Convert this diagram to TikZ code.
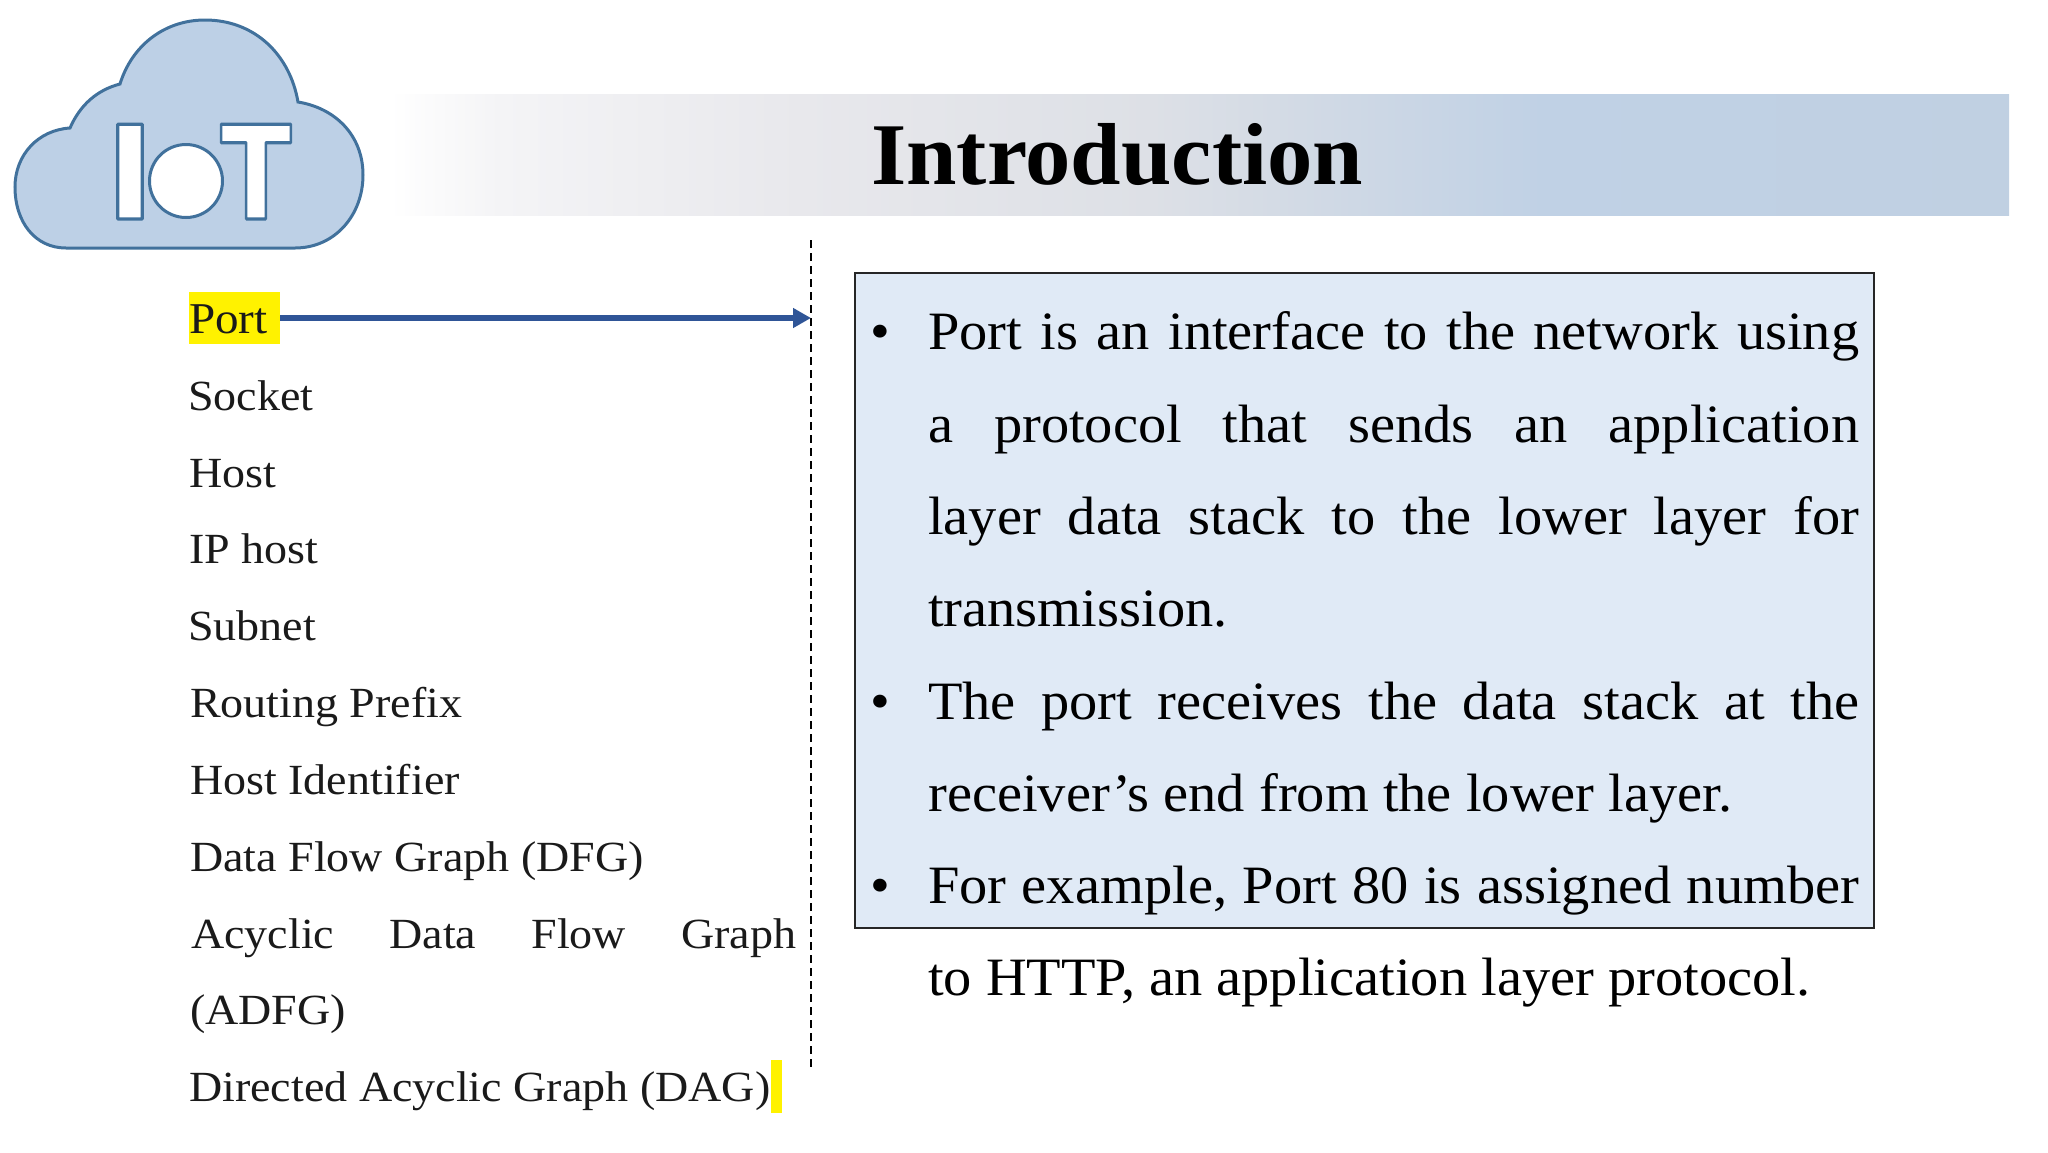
\documentclass[tikz,border=0pt]{standalone}
\usepackage{fontspec}
\setmainfont[FakeStretch=1.07]{Liberation Serif}
\newfontfamily\bodyfont[FakeStretch=1.045]{Liberation Serif}
\newfontfamily\titlefont[FakeStretch=1.03]{Liberation Serif Bold}
\newfontfamily\logofont[FakeBold=2.4]{DejaVu Sans Bold}
\usetikzlibrary{arrows.meta,positioning,calc}
\definecolor{cloudfill}{HTML}{BDD0E6}
\definecolor{cloudline}{HTML}{41719C}
\definecolor{boxfill}{HTML}{E0EAF6}
\definecolor{arrowblue}{HTML}{2F5597}
\definecolor{inkgrey}{HTML}{1A1A1A}
\definecolor{banda}{HTML}{F4F4F6}
\definecolor{bandb}{HTML}{E8E8EC}
\definecolor{bandc}{HTML}{DDE0E6}
\definecolor{bandd}{HTML}{D2DAE5}
\definecolor{bande}{HTML}{C0D1E5}
\definecolor{bandf}{HTML}{C0D0E2}
\pgfdeclarehorizontalshading{bandshade}{100bp}{color(0bp)=(white); color(25bp)=(white); color(28.4bp)=(banda); color(37.7bp)=(bandb); color(48.5bp)=(bandc); color(53.1bp)=(bandd); color(60.6bp)=(bande); color(75bp)=(bandf); color(100bp)=(bandf)}
\newcommand{\logoletter}[1]{\special{pdf:bc [1 1 1] [0.255 0.443 0.612]}#1\special{pdf:ec}}
\begin{document}
\begin{tikzpicture}
[x=1pt,y=-1pt,
termline/.style={anchor=base west,inner sep=0pt,text=inkgrey,font=\fontsize{43}{48}\selectfont},
bodyline/.style={anchor=base west,inner sep=0pt,text=black,font=\fontsize{54}{60}\bodyfont},
bulletmark/.style={anchor=base,inner sep=0pt,text=black,font=\fontsize{54}{60}\bodyfont},
logotext/.style={anchor=base,inner sep=0pt,line join=round,font=\fontsize{130}{130}\logofont}]
\useasboundingbox (0,0) rectangle (2048,1152);
\shade[shading=bandshade] (390,94) rectangle (2009,215);
\node[anchor=base west,inner sep=0pt,font=\fontsize{88}{96}\titlefont] (title) at (871,184) {Introduction};
% cloud
\draw[cloudline,line width=3pt,fill=cloudfill] (66,248) -- (295,248)
.. controls (335,248) and (363,215) .. (363,175)
.. controls (363,135) and (335,108) .. (298,102)
.. controls (290,55) and (255,20) .. (205,20)
.. controls (165,20) and (132,45) .. (120,84)
.. controls (97,90) and (80,105) .. (70,128)
.. controls (38,130) and (15,155) .. (15,187)
.. controls (15,222) and (35,248) .. (66,248) -- cycle;
\node[logotext] (logoi) at (130,219) {\logoletter{I}};
\node[circle,draw=cloudline,line width=3pt,fill=white,inner sep=0pt,minimum size=73pt,text=white,font=\fontsize{60}{60}\logofont] (logoo) at (186,181) {o};
\node[logotext,xscale=.8,transform shape] (logot) at (256,219) {\logoletter{T}};
% left column
\node[anchor=west,inner sep=0pt,fill=yellow,text=inkgrey,text width=91pt,align=left,text height=41pt,text depth=11pt,font=\fontsize{44}{48}\selectfont] (port) at (189,318) {Port};
\node[termline] (socket) at (188,410) {Socket};
\node[termline] (host) at (189,487) {Host};
\node[termline] (iphost) at (189,563) {IP host};
\node[termline] (subnet) at (188,640) {Subnet};
\node[termline] (prefix) at (190,717) {Routing Prefix};
\node[termline] (hostid) at (190,794) {Host Identifier};
\node[termline] (dfg) at (190,871) {Data Flow Graph (DFG)};
\node[termline] (adfg) at (191,948) {\makebox[605pt][s]{Acyclic\hfill Data\hfill Flow\hfill Graph}};
\node[termline] (adfgb) at (190,1024) {(ADFG)};
\node[termline] (dag) at (189,1101) {Directed Acyclic Graph (DAG)};
\node[fill=yellow,inner sep=0pt,minimum width=11pt,minimum height=53pt] (dagmark) at (776.5,1086.5) {};
% divider and arrow
\coordinate (dashtop) at (811,240);
\coordinate (dashend) at (811,1070);
\draw[line width=2pt,dash pattern=on 8pt off 5pt] (dashtop) -- (dashend);
\draw[arrowblue,line width=6pt,-{Triangle[length=18pt,width=19pt]}] (port.east) -- (port.east -| dashtop);
% text box
\node[draw=black!85,line width=2pt,fill=boxfill,anchor=north west,inner sep=0pt,minimum width=1019pt,minimum height=655pt] (box) at (854,272) {};
\node[bulletmark] (dota) at (880,349) {\textbullet};
\node[bodyline] (la) at (928,349) {\makebox[931pt][s]{Port is an interface to the network using}};
\node[bodyline] (lb) at (928,442) {\makebox[931pt][s]{a protocol that sends an application}};
\node[bodyline] (lc) at (928,534) {\makebox[931pt][s]{layer data stack to the lower layer for}};
\node[bodyline] (ld) at (928,626) {transmission.};
\node[bulletmark] (dotb) at (880,719) {\textbullet};
\node[bodyline] (le) at (928,719) {\makebox[931pt][s]{The port receives the data stack at the}};
\node[bodyline] (lf) at (928,811) {receiver’s end from the lower layer.};
\node[bulletmark] (dotc) at (880,903) {\textbullet};
\node[bodyline] (lg) at (928,903) {\makebox[931pt][s]{For example, Port 80 is assigned number}};
\node[bodyline] (lh) at (928,995) {to HTTP, an application layer protocol.};
\end{tikzpicture}
\end{document}
